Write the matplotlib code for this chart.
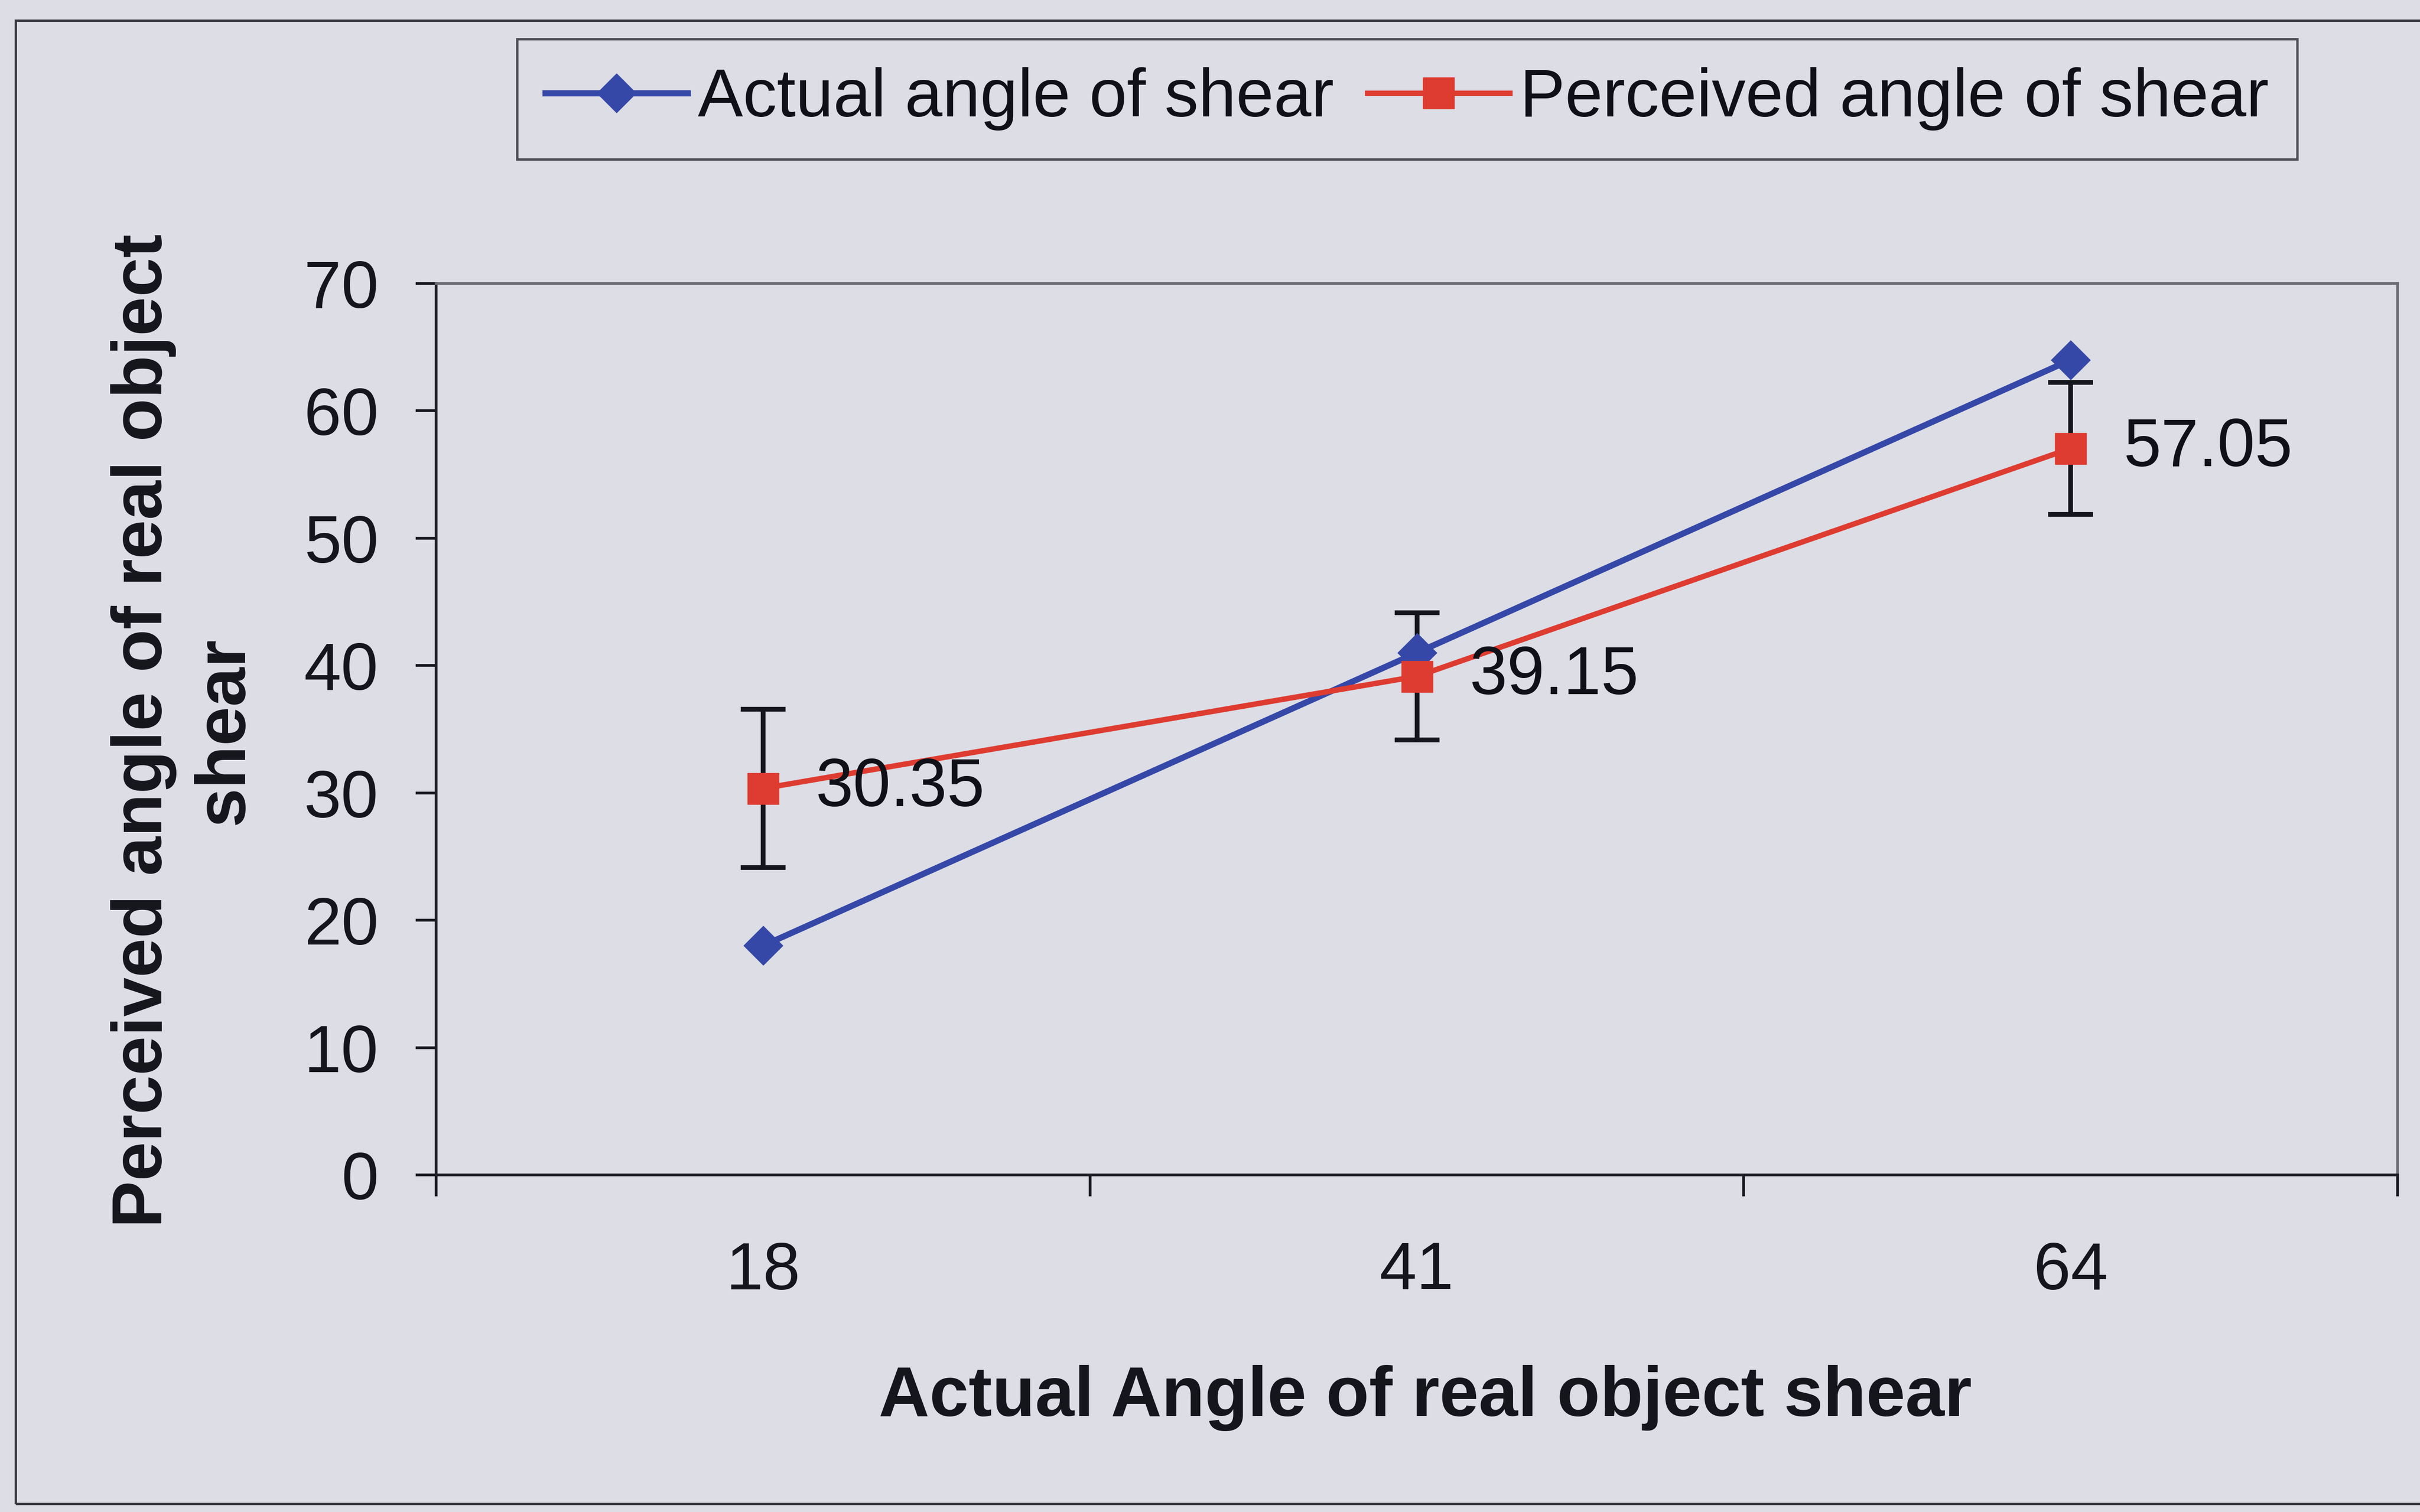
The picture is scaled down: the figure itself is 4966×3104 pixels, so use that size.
import numpy as np
import matplotlib
matplotlib.use("Agg")
import matplotlib.pyplot as plt
from matplotlib.patches import Rectangle

plt.rcParams['font.family'] = ['Liberation Sans', 'DejaVu Sans']

# shear angles for the three real objects
categories = ['18', '41', '64']
actual = [18, 41, 64]
perceived = [30.35, 39.15, 57.05]
perceived_err = [6.2, 5.0, 5.2]
yticks = [0, 10, 20, 30, 40, 50, 60, 70]

bg = '#dcdde5'
blue = '#3548a8'
red = '#de3c30'

W, H = 4966, 3104
fig = plt.figure(figsize=(W / 100, H / 100), dpi=100)
fig.patch.set_facecolor(bg)

# outer chart frame (runs off the right edge)
fig.patches.append(Rectangle((32 / W, 1 - 3087 / H), (5200 - 32) / W, (3087 - 42) / H,
                             transform=fig.transFigure, fill=False,
                             ec='#3a3a42', lw=3.5, zorder=0))

ax = fig.add_axes([895 / W, 1 - 2412 / H, (4920 - 895) / W, (2412 - 582) / H])
ax.set_facecolor(bg)

x = np.arange(1, len(categories) + 1)

ax.errorbar(x, perceived, yerr=perceived_err, fmt='none', ecolor='#15151c',
            elinewidth=7, capsize=33, capthick=7, zorder=2)
l1, = ax.plot(x, actual, color=blue, lw=9, marker='D', ms=41,
              mfc=blue, mec=blue, zorder=3, label='Actual angle of shear')
l2, = ax.plot(x, perceived, color=red, lw=8, marker='s', ms=46,
              mfc=red, mec=red, zorder=4, label='Perceived angle of shear')

for xi, v in zip(x, perceived):
    ax.annotate(f'{v:.2f}', (xi, v), xytext=(78, 0), textcoords='offset points',
                ha='left', va='center', fontsize=100, color='#101018', zorder=5)

ax.set_xlim(0.5, len(categories) + 0.5)
ax.set_ylim(0, 70)
ax.set_yticks(yticks)
ax.set_xticks(x)
ax.set_xticklabels(categories)
ax.set_xticks(np.arange(0.5, len(categories) + 1, 1), minor=True)

ax.tick_params(axis='y', direction='out', length=30, width=4, pad=55,
               labelsize=99, colors='#15151c')
ax.tick_params(axis='x', which='major', length=0, pad=97, labelsize=99,
               colors='#15151c')
ax.tick_params(axis='x', which='minor', direction='out', length=32, width=4,
               color='#15151c')

for side in ['left', 'bottom']:
    ax.spines[side].set_color('#1e1e26')
    ax.spines[side].set_linewidth(4)
for side in ['top', 'right']:
    ax.spines[side].set_color('#6a6b75')
    ax.spines[side].set_linewidth(4)

fig.text(2925 / W, 1 - 2907 / H, 'Actual Angle of real object shear',
         ha='center', va='baseline', fontsize=104, fontweight='bold',
         color='#15151c')
fig.text(378 / W, 1 - 1500 / H, 'Perceived angle of real object\nshear',
         rotation=90, ha='center', va='center', multialignment='center',
         fontsize=104, fontweight='bold', color='#15151c', linespacing=1.3)

leg = fig.legend(handles=[l1, l2], loc='upper left',
                 bbox_to_anchor=(1061 / W, 1 - 80 / H), ncol=2,
                 fontsize=100, frameon=True, fancybox=False,
                 facecolor=bg, edgecolor='#2a2a32', borderaxespad=0,
                 borderpad=0.42, handlelength=2.1, handletextpad=0.15,
                 columnspacing=0.5)
leg.get_frame().set_linewidth(3.5)
for t in leg.get_texts():
    t.set_color('#101018')

fig.savefig('out.png', dpi=100, facecolor=bg)
